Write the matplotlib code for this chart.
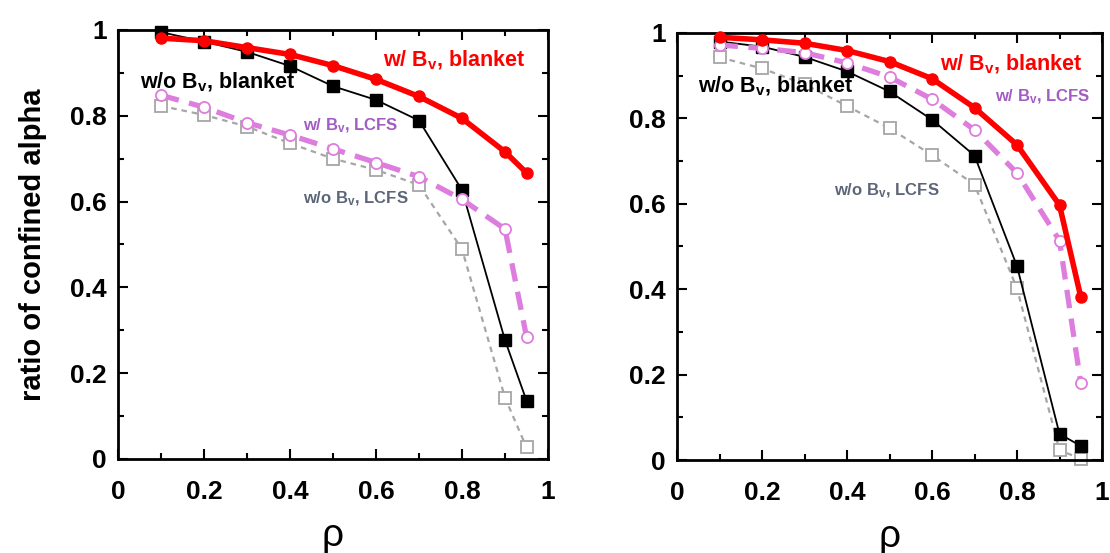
import matplotlib
matplotlib.use("Agg")
import matplotlib.pyplot as plt
from matplotlib.ticker import MultipleLocator, FuncFormatter

plt.rcParams.update({
    "font.family": ["Liberation Sans", "DejaVu Sans"],
    "mathtext.fontset": "custom",
    "mathtext.rm": "Liberation Sans:bold",
    "mathtext.it": "Liberation Sans:bold",
    "mathtext.bf": "Liberation Sans:bold",
})

# normalized minor radius
rho = [0.1, 0.2, 0.3, 0.4, 0.5, 0.6, 0.7, 0.8, 0.9, 0.95]

# left case
left_wBv_blanket = [0.981, 0.975, 0.959, 0.943, 0.917, 0.885, 0.845, 0.794, 0.716, 0.667]
left_woBv_blanket = [0.995, 0.973, 0.949, 0.916, 0.869, 0.837, 0.789, 0.627, 0.277, 0.136]
left_wBv_lcfs = [0.848, 0.820, 0.784, 0.755, 0.723, 0.691, 0.658, 0.605, 0.536, 0.285]
left_woBv_lcfs = [0.823, 0.802, 0.775, 0.736, 0.700, 0.674, 0.639, 0.489, 0.143, 0.027]

# right case
right_wBv_blanket = [0.990, 0.984, 0.976, 0.959, 0.933, 0.893, 0.825, 0.738, 0.597, 0.382]
right_woBv_blanket = [0.980, 0.968, 0.944, 0.910, 0.863, 0.797, 0.713, 0.454, 0.061, 0.033]
right_wBv_lcfs = [0.972, 0.964, 0.954, 0.930, 0.897, 0.845, 0.773, 0.672, 0.514, 0.180]
right_woBv_lcfs = [0.943, 0.917, 0.880, 0.829, 0.777, 0.714, 0.645, 0.402, 0.023, 0.003]

label_wBv_blanket = r"w/ B$_{v}$, blanket"
label_woBv_blanket = r"w/o B$_{v}$, blanket"
label_wBv_lcfs = r"w/ B$_{v}$, LCFS"
label_woBv_lcfs = r"w/o B$_{v}$, LCFS"

RED = "#ff0000"
PINK = "#dd7ddd"
GRAY = "#a6a6a6"
LCFS_W_TXT = "#a25cc4"
LCFS_WO_TXT = "#5d6678"

fig = plt.figure(figsize=(11.10, 5.53), dpi=100)
ax_l = fig.add_axes([118 / 1110, 94 / 553, 430 / 1110, 429 / 553])
ax_r = fig.add_axes([677 / 1110, 93 / 553, 425 / 1110, 427 / 553])


def draw(ax, red, black, pink, gray):
    ax.plot(rho, gray, color=GRAY, lw=1.6, dashes=(2.5, 2.2), marker="s", ms=8,
            mfc="white", mec=GRAY, mew=1.3, zorder=2, clip_on=False)
    ax.plot(rho, black, color="black", lw=1.3, marker="s", ms=8,
            mfc="black", mec="black", zorder=3, clip_on=False)
    ax.plot(rho, pink, color=PINK, lw=3.8, dashes=(3.5, 2.0), marker="o", ms=8,
            mfc="white", mec=PINK, mew=1.3, zorder=4, clip_on=False)
    ax.plot(rho, red, color=RED, lw=4.0, marker="o", ms=8,
            mfc=RED, mec=RED, zorder=5, clip_on=False)

    ax.set_xlim(0, 1)
    ax.set_ylim(0, 1)
    ax.xaxis.set_major_locator(MultipleLocator(0.2))
    ax.xaxis.set_minor_locator(MultipleLocator(0.1))
    ax.yaxis.set_major_locator(MultipleLocator(0.2))
    ax.yaxis.set_minor_locator(MultipleLocator(0.1))
    fmt = FuncFormatter(lambda v, p: f"{v:g}")
    ax.xaxis.set_major_formatter(fmt)
    ax.yaxis.set_major_formatter(fmt)
    ax.tick_params(which="both", direction="in", top=True, right=True, width=1.5)
    ax.tick_params(which="major", length=7)
    ax.tick_params(which="minor", length=4)
    ax.tick_params(axis="x", which="major", pad=15, labelsize=19)
    ax.tick_params(axis="y", which="major", pad=8, labelsize=19)
    for lab in ax.get_xticklabels() + ax.get_yticklabels():
        lab.set_fontweight("bold")
    for sp in ax.spines.values():
        sp.set_linewidth(2)
    ax.set_xlabel(r"ρ", fontsize=28, labelpad=10)


draw(ax_l, left_wBv_blanket, left_woBv_blanket, left_wBv_lcfs, left_woBv_lcfs)
draw(ax_r, right_wBv_blanket, right_woBv_blanket, right_wBv_lcfs, right_woBv_lcfs)

ax_l.set_ylabel("ratio of confined alpha", fontsize=21, fontweight="bold", labelpad=17)

big = dict(fontsize=15.5, fontweight="bold", ha="left", va="baseline", zorder=6)
small = dict(fontsize=12, fontweight="bold", ha="left", va="baseline", zorder=6)

ax_l.text(0.616, 0.916, label_wBv_blanket, color=RED, **big)
ax_l.text(0.051, 0.864, label_woBv_blanket, color="black", **big)
ax_l.text(0.430, 0.767, label_wBv_lcfs, color=LCFS_W_TXT, **small)
ax_l.text(0.430, 0.596, label_woBv_lcfs, color=LCFS_WO_TXT, **small)

ax_r.text(0.619, 0.913, label_wBv_blanket, color=RED, **big)
ax_r.text(0.049, 0.860, label_woBv_blanket, color="black", **big)
ax_r.text(0.748, 0.839, label_wBv_lcfs, color=LCFS_W_TXT, **small)
ax_r.text(0.369, 0.621, label_woBv_lcfs, color=LCFS_WO_TXT, **small)

fig.savefig("out.png", dpi=100)
